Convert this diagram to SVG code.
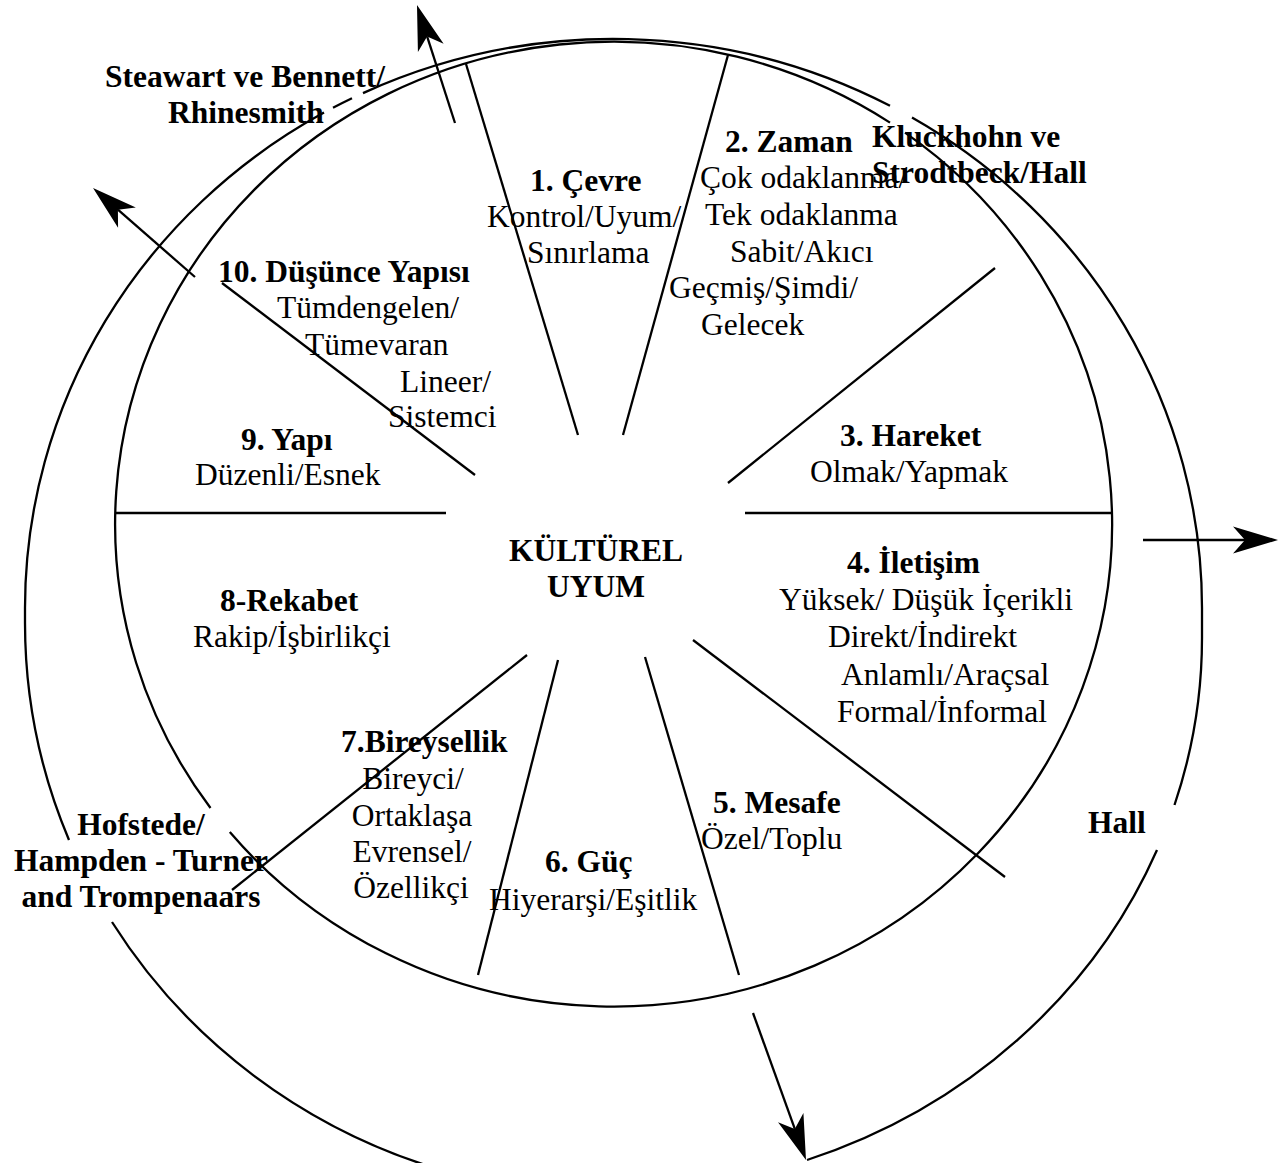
<svg xmlns="http://www.w3.org/2000/svg" width="1285" height="1163" viewBox="0 0 1285 1163">
  <defs>
    <style>
      .ln{fill:none;stroke:#000;stroke-width:2.3}
      .t{font-family:"Liberation Serif","Times New Roman",serif;font-size:31.5px;fill:#000}
      .b{font-weight:bold}
      .m{text-anchor:middle}
    </style>
    <marker id="head" markerUnits="userSpaceOnUse" markerWidth="50" markerHeight="30" refX="0" refY="0" orient="auto" overflow="visible">
      <path d="M33,0 L-12,-13.5 L0,0 L-12,13.5 Z" fill="#000" stroke="none"/>
    </marker>
  </defs>
  <rect width="1285" height="1163" fill="#fff"/>

  <g id="connectors" class="ln">
    <!-- inner ring (two pieces, gaps at label boxes) -->
    <path id="ring-a" d="M905,132.6 A498.5,482.5 0 1 1 229.8,832"/>
    <path id="ring-b" d="M210.5,808 A498.5,482.5 0 0 1 890,122.6"/>

    <!-- outer sweep, left side -->
    <path id="outer-left" d="M324,112.6 A588.5,569 0 0 0 25,608 L25,623 A588.5,572 0 0 0 69,840"/>
    <path id="outer-left-low" d="M112,922 A588.5,572 0 0 0 441.5,1170"/>
    <path id="outer-top-a" d="M333,107.8 A588.5,569 0 0 1 352,98.3"/>
    <path id="outer-top-b" d="M363,93.1 A588.5,569 0 0 1 890,105.8"/>

    <!-- outer sweep, right side -->
    <path id="outer-right" d="M912,117.6 A588.5,569 0 0 1 1202,608 L1202,638 A588.5,552.5 0 0 1 1174.5,805"/>
    <path id="outer-right-low" d="M1157,850 A588.5,552.5 0 0 1 807,1160"/>

    <!-- sector dividers -->
    <line x1="466" y1="64" x2="578" y2="435"/>
    <line x1="728" y1="55" x2="623" y2="435"/>
    <line x1="995" y1="268" x2="728" y2="483"/>
    <line x1="745" y1="513" x2="1112" y2="513"/>
    <line x1="693" y1="640" x2="1005" y2="877"/>
    <line x1="645" y1="657" x2="739" y2="975"/>
    <line x1="558" y1="660" x2="478" y2="975"/>
    <line x1="527" y1="655" x2="232" y2="890"/>
    <line x1="115" y1="513" x2="446" y2="513"/>
    <line x1="222" y1="283" x2="475" y2="475"/>

    <!-- direction arrows -->
    <line x1="455" y1="123" x2="427.1" y2="36.4" marker-end="url(#head)"/>
    <line x1="195" y1="277" x2="117.9" y2="209.7" marker-end="url(#head)"/>
    <line x1="1143" y1="540" x2="1245" y2="540" marker-end="url(#head)"/>
    <line x1="753" y1="1013" x2="794.8" y2="1128.9" marker-end="url(#head)"/>
  </g>

  <g id="center" class="t b m">
    <text x="596" y="561">KÜLTÜREL</text>
    <text x="596" y="597">UYUM</text>
  </g>

  <g id="s1-cevre" class="t">
    <text class="b" x="530" y="191">1. Çevre</text>
    <text x="487" y="227">Kontrol/Uyum/</text>
    <text x="527" y="263">Sınırlama</text>
  </g>

  <g id="s2-zaman" class="t">
    <text class="b" x="725" y="152">2. Zaman</text>
    <text x="700" y="188">Çok odaklanma/</text>
    <text x="705" y="225">Tek odaklanma</text>
    <text x="730" y="262">Sabit/Akıcı</text>
    <text x="669" y="298">Geçmiş/Şimdi/</text>
    <text x="701" y="335">Gelecek</text>
  </g>

  <g id="s3-hareket" class="t">
    <text class="b" x="840" y="446">3. Hareket</text>
    <text x="810" y="482">Olmak/Yapmak</text>
  </g>

  <g id="s4-iletisim" class="t">
    <text class="b" x="847" y="573">4. İletişim</text>
    <text x="779" y="610">Yüksek/ Düşük İçerikli</text>
    <text x="828" y="647">Direkt/İndirekt</text>
    <text x="841" y="685">Anlamlı/Araçsal</text>
    <text x="837" y="722">Formal/İnformal</text>
  </g>

  <g id="s5-mesafe" class="t">
    <text class="b" x="713" y="813">5. Mesafe</text>
    <text x="701" y="849">Özel/Toplu</text>
  </g>

  <g id="s6-guc" class="t">
    <text class="b" x="545" y="872">6. Güç</text>
    <text x="489" y="910">Hiyerarşi/Eşitlik</text>
  </g>

  <g id="s7-bireysellik" class="t">
    <text class="b" x="341" y="752">7.Bireysellik</text>
    <text class="m" x="413" y="789">Bireyci/</text>
    <text class="m" x="412" y="826">Ortaklaşa</text>
    <text class="m" x="412" y="862">Evrensel/</text>
    <text class="m" x="411" y="898">Özellikçi</text>
  </g>

  <g id="s8-rekabet" class="t">
    <text class="b" x="220" y="611">8-Rekabet</text>
    <text x="193" y="647">Rakip/İşbirlikçi</text>
  </g>

  <g id="s9-yapi" class="t">
    <text class="b" x="241" y="450">9. Yapı</text>
    <text x="195" y="485">Düzenli/Esnek</text>
  </g>

  <g id="s10-dusunce" class="t">
    <text class="b" x="218" y="282">10. Düşünce Yapısı</text>
    <text x="277" y="318">Tümdengelen/</text>
    <text x="305" y="355">Tümevaran</text>
    <text x="400" y="392">Lineer/</text>
    <text x="388" y="427">Sistemci</text>
  </g>

  <g id="src-stewart" class="t b">
    <text x="105" y="87">Steawart ve Bennett/</text>
    <text x="168" y="123">Rhinesmith</text>
  </g>

  <g id="src-kluckhohn" class="t b">
    <text x="872" y="147">Kluckhohn ve</text>
    <text x="872" y="183">Strodtbeck/Hall</text>
  </g>

  <g id="src-hall" class="t b">
    <text x="1088" y="833">Hall</text>
  </g>

  <g id="src-hofstede" class="t b m">
    <text x="141" y="835">Hofstede/</text>
    <text x="141" y="871">Hampden - Turner</text>
    <text x="141" y="907">and Trompenaars</text>
  </g>
</svg>
